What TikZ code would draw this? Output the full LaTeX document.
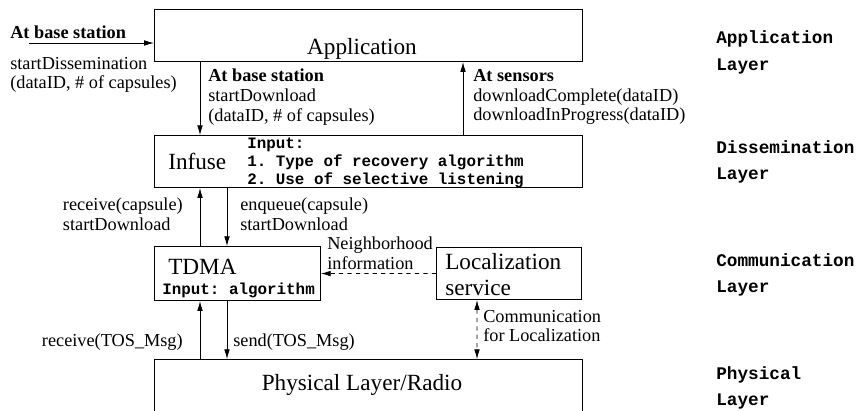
\documentclass[tikz,border=0pt]{standalone}
\usepackage{fontspec}
\setmainfont{Liberation Serif}
\setmonofont{Liberation Mono}
\usepackage{tikz}
\usetikzlibrary{positioning,calc,arrows.meta}
\newcommand{\labfont}{\fontsize{13}{14}\selectfont}
\newcommand{\bigfont}{\fontsize{16.5}{18}\selectfont}
\newcommand{\inpfont}{\ttfamily\bfseries\fontsize{11.3}{12.8}\selectfont}
\newcommand{\layerlabel}[3]{%
  \node[anchor=west,align=left,inner sep=0pt,
        font=\ttfamily\bfseries\fontsize{12.6}{19}\selectfont] (#1) at (17.9,#2) {#3\\Layer};
}
\tikzset{
  blk/.style={draw,line width=0.6pt,inner sep=0pt,anchor=south west},
  arr/.style={-{Latex[length=7pt,width=4pt]},line width=0.6pt},
  darr/.style={{Latex[length=7pt,width=4pt]}-{Latex[length=7pt,width=4pt]},line width=0.6pt,dashed},
  lbl/.style={font=\labfont,align=left,inner sep=0pt},
}

\begin{document}
\begin{tikzpicture}
  \useasboundingbox (0,0) rectangle (21.55,10.275);
  \node[blk,minimum width=10.7cm,minimum height=1.3cm] (app) at (3.85,8.725) {};
  \node[font=\bigfont] (apptxt) at (9.05,9.06) {Application};
  \node[blk,minimum width=10.7cm,minimum height=1.3cm] (infuse) at (3.85,5.575) {};
  \node[font=\bigfont,anchor=west,inner sep=0pt] (inftxt) at (4.2,6.24) {Infuse};
  \node[font=\inpfont,anchor=west,align=left,inner sep=0pt] (infin) at (6.175,6.2)
        {Input:\\1. Type of recovery algorithm\\2. Use of selective listening};
  \node[blk,minimum width=4.15cm,minimum height=1.35cm] (tdma) at (3.85,2.75) {};
  \node[font=\bigfont,anchor=west,inner sep=0pt] (tdmatxt) at (4.2,3.6) {TDMA};
  \node[font=\inpfont,anchor=west,inner sep=0pt] (tdmain) at (4.05,3.025) {Input: algorithm};
  \node[blk,minimum width=3.625cm,minimum height=1.3cm] (loc) at (10.9,2.775) {};
  \node[font=\bigfont,anchor=west,align=left,inner sep=0pt] (loctxt) at (11.125,3.41)
        {Localization\\service};
  \node[blk,minimum width=10.7cm,minimum height=1.475cm] (phy) at (3.85,-0.2) {};
  \node[font=\bigfont] (phytxt) at (9.05,0.65) {Physical Layer/Radio};

  \coordinate (bsin) at (0.725,9.2);
  \draw[arr] (bsin) -- (bsin -| app.west);
  \node[lbl,anchor=west,font=\labfont\bfseries] (bslbl) at (0.25,9.475) {At base station};
  \node[lbl,anchor=west] (dislbl) at (0.25,8.4) {startDissemination\\(dataID, \# of capsules)};

  \draw[arr] ($(app.south west)+(1.15,0)$) -- ($(infuse.north west)+(1.15,0)$);
  \draw[arr] ($(infuse.north west)+(7.725,0)$) -- ($(app.south west)+(7.725,0)$);
  \node[lbl,anchor=west] (dllbl) at (5.2,7.85)
        {\textbf{At base station}\\startDownload\\(dataID, \# of capsules)};
  \node[lbl,anchor=west] (snlbl) at (11.825,7.85)
        {\textbf{At sensors}\\downloadComplete(dataID)\\downloadInProgress(dataID)};

  \draw[arr] ($(tdma.north west)+(1.15,0)$) -- ($(infuse.south west)+(1.15,0)$);
  \draw[arr] ($(infuse.south west)+(1.825,0)$) -- ($(tdma.north west)+(1.825,0)$);
  \node[lbl,anchor=east,align=left] (rcvlbl) at (4.575,4.925) {receive(capsule)\\startDownload};
  \node[lbl,anchor=west] (enqlbl) at (6.0,4.925) {enqueue(capsule)\\startDownload};

  \draw[arr] ($(phy.north west)+(1.15,0)$) -- ($(tdma.south west)+(1.15,0)$);
  \draw[arr] ($(tdma.south west)+(1.825,0)$) -- ($(phy.north west)+(1.825,0)$);
  \node[lbl,anchor=east] (rtoslbl) at (4.575,1.725) {receive(TOS\_Msg)};
  \node[lbl,anchor=west] (stoslbl) at (5.825,1.725) {send(TOS\_Msg)};

  \draw[arr,dashed] (loc.west) -- (tdma.east);
  \node[lbl,anchor=west] (nbrlbl) at (8.175,3.95) {Neighborhood\\information};
  \draw[darr] ($(loc.south west)+(1.025,0)$) -- ($(phy.north west)+(8.075,0)$);
  \node[lbl,anchor=west] (cfllbl) at (12.075,2.125) {Communication\\for Localization};

  \layerlabel{applay}{8.96}{Application}
  \layerlabel{dislay}{6.225}{Dissemination}
  \layerlabel{comlay}{3.4}{Communication}
  \layerlabel{phylay}{0.575}{Physical}
\end{tikzpicture}
\end{document}
